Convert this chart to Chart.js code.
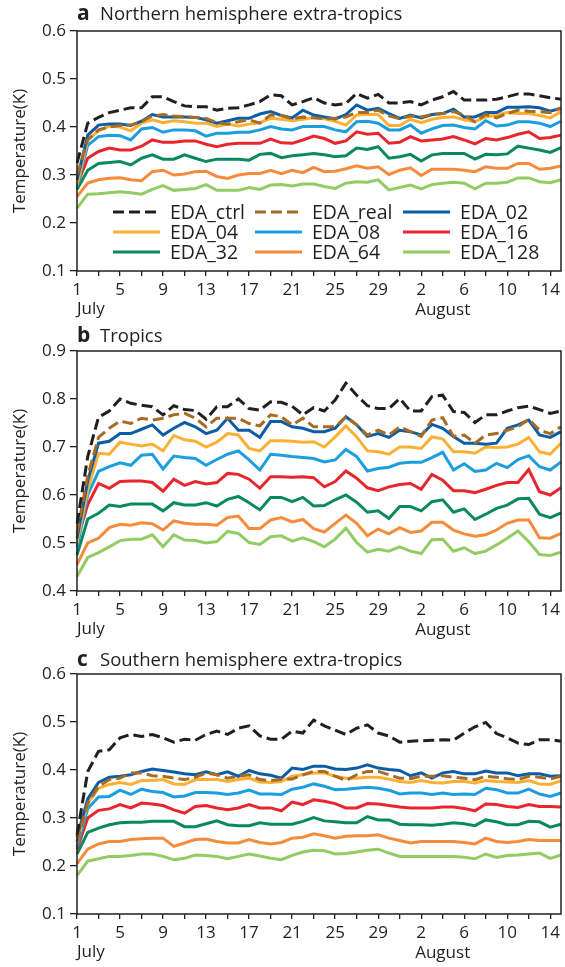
<!DOCTYPE html>
<html>
<head>
<meta charset="utf-8">
<script src="https://cdn.jsdelivr.net/npm/chart.js@4.4.0/dist/chart.umd.min.js"></script>
<style>
  html, body { margin: 0; padding: 0; background: #fff; }
  body { width: 565px; height: 967px; position: relative; overflow: hidden; }
  .panel { position: absolute; left: 0; width: 565px; height: 320px; }
</style>
</head>
<body>
<div class="panel" style="top:0"><canvas id="chartA" width="565" height="320"></canvas></div>
<div class="panel" style="top:320px"><canvas id="chartB" width="565" height="320"></canvas></div>
<div class="panel" style="top:643px"><canvas id="chartC" width="565" height="320"></canvas></div>
<script>
// 1 July .. 15 August, one value per day
const dayLabels = ['1','2','3','4','5','6','7','8','9','10','11','12','13','14','15','16',
  '17','18','19','20','21','22','23','24','25','26','27','28','29','30','31',
  '1','2','3','4','5','6','7','8','9','10','11','12','13','14','15']
const months = ['July', 'August']
const runNames = ['EDA_ctrl', 'EDA_real', 'EDA_02', 'EDA_04', 'EDA_08', 'EDA_16', 'EDA_32', 'EDA_64', 'EDA_128']
const runColours = ['#231f20', '#a66b24', '#0c5da5', '#fbb034', '#1a9ee0', '#e8262c', '#0a8a5c', '#f58b3b', '#92cc62']

// a  Northern hemisphere extra-tropics
const nhCtrl = [0.325,0.408,0.42,0.43,0.435,0.44,0.44,0.463,0.463,0.453, 0.444,0.442,0.442,0.435,0.439,0.44,0.446,0.453,0.467,0.465, 0.446,0.453,0.461,0.45,0.446,0.449,0.47,0.46,0.468,0.45, 0.45,0.453,0.446,0.456,0.463,0.474,0.456,0.456,0.456,0.458, 0.463,0.469,0.469,0.465,0.461,0.458]
const nhReal = [0.30,0.373,0.394,0.40,0.403,0.404,0.411,0.423,0.426,0.423, 0.421,0.42,0.418,0.409,0.406,0.411,0.415,0.408,0.425,0.424, 0.417,0.421,0.419,0.417,0.418,0.421,0.43,0.43,0.435,0.423, 0.417,0.423,0.421,0.426,0.428,0.432,0.425,0.411,0.426,0.419, 0.428,0.435,0.433,0.432,0.43,0.44]
const nh02 = [0.29,0.383,0.404,0.406,0.406,0.403,0.412,0.426,0.421,0.421, 0.421,0.42,0.415,0.408,0.413,0.418,0.418,0.427,0.432,0.424, 0.419,0.435,0.425,0.421,0.417,0.426,0.446,0.435,0.439,0.428, 0.418,0.425,0.419,0.426,0.428,0.437,0.421,0.421,0.43,0.43, 0.441,0.441,0.442,0.44,0.433,0.439]
const nh04 = [0.28,0.373,0.392,0.402,0.40,0.392,0.408,0.415,0.409,0.413, 0.411,0.408,0.408,0.401,0.406,0.402,0.406,0.409,0.418,0.416, 0.413,0.416,0.42,0.417,0.412,0.404,0.425,0.426,0.426,0.403, 0.403,0.416,0.409,0.416,0.42,0.421,0.415,0.411,0.421,0.425, 0.43,0.428,0.428,0.424,0.419,0.432]
const nh08 = [0.275,0.362,0.38,0.383,0.382,0.373,0.396,0.399,0.389,0.394, 0.394,0.392,0.381,0.387,0.387,0.389,0.389,0.394,0.401,0.396, 0.394,0.401,0.401,0.401,0.394,0.39,0.411,0.412,0.408,0.394, 0.394,0.404,0.387,0.396,0.403,0.404,0.399,0.396,0.413,0.402, 0.404,0.411,0.411,0.408,0.401,0.412]
const nh16 = [0.28,0.335,0.349,0.356,0.352,0.352,0.36,0.373,0.368,0.368, 0.371,0.371,0.364,0.359,0.364,0.366,0.366,0.366,0.375,0.367, 0.366,0.373,0.381,0.376,0.366,0.371,0.39,0.385,0.387,0.366, 0.368,0.38,0.371,0.373,0.375,0.38,0.373,0.365,0.376,0.373, 0.378,0.385,0.39,0.376,0.378,0.383]
const nh32 = [0.27,0.31,0.324,0.326,0.328,0.321,0.335,0.342,0.333,0.333, 0.342,0.335,0.328,0.333,0.333,0.333,0.331,0.343,0.345,0.336, 0.34,0.342,0.345,0.342,0.338,0.34,0.356,0.353,0.359,0.335, 0.338,0.343,0.329,0.342,0.345,0.345,0.345,0.333,0.343,0.342, 0.344,0.36,0.356,0.352,0.347,0.357]
const nh64 = [0.255,0.283,0.29,0.293,0.294,0.29,0.288,0.307,0.31,0.30, 0.302,0.307,0.308,0.297,0.293,0.30,0.303,0.303,0.31,0.303, 0.31,0.305,0.316,0.307,0.308,0.313,0.319,0.314,0.317,0.301, 0.31,0.315,0.299,0.312,0.312,0.312,0.31,0.307,0.317,0.314, 0.314,0.324,0.324,0.312,0.314,0.319]
const nh128 = [0.231,0.26,0.261,0.263,0.265,0.263,0.26,0.27,0.278,0.268, 0.27,0.272,0.28,0.268,0.268,0.268,0.274,0.27,0.279,0.28, 0.277,0.281,0.281,0.276,0.272,0.283,0.286,0.285,0.29,0.269, 0.274,0.279,0.271,0.28,0.283,0.285,0.283,0.271,0.283,0.283, 0.285,0.294,0.294,0.286,0.284,0.29]

// b  Tropics
const trCtrl = [0.54,0.68,0.762,0.775,0.80,0.791,0.787,0.784,0.767,0.786, 0.778,0.776,0.758,0.784,0.784,0.80,0.78,0.777,0.794,0.793, 0.785,0.767,0.782,0.775,0.798,0.833,0.808,0.786,0.78,0.78, 0.801,0.775,0.775,0.805,0.808,0.774,0.772,0.751,0.767,0.767, 0.775,0.782,0.785,0.778,0.77,0.775]
const trReal = [0.52,0.64,0.72,0.739,0.754,0.749,0.76,0.756,0.76,0.767, 0.77,0.76,0.742,0.76,0.76,0.76,0.749,0.744,0.767,0.763, 0.746,0.76,0.742,0.742,0.742,0.763,0.746,0.725,0.735,0.725, 0.742,0.732,0.722,0.756,0.761,0.722,0.725,0.708,0.725,0.728, 0.735,0.742,0.758,0.735,0.728,0.742]
const tr02 = [0.51,0.63,0.708,0.712,0.728,0.728,0.737,0.746,0.725,0.739, 0.751,0.742,0.728,0.735,0.76,0.735,0.735,0.72,0.753,0.753, 0.742,0.739,0.732,0.732,0.739,0.763,0.746,0.722,0.728,0.72, 0.735,0.732,0.725,0.747,0.739,0.722,0.708,0.708,0.706,0.708, 0.739,0.746,0.756,0.725,0.72,0.732]
const tr04 = [0.50,0.61,0.687,0.685,0.71,0.706,0.702,0.706,0.692,0.724, 0.715,0.712,0.70,0.71,0.728,0.725,0.697,0.692,0.713,0.713, 0.712,0.71,0.711,0.70,0.721,0.744,0.721,0.692,0.69,0.685, 0.70,0.70,0.697,0.721,0.717,0.69,0.69,0.687,0.70,0.699, 0.70,0.706,0.72,0.69,0.685,0.708]
const tr08 = [0.49,0.60,0.649,0.659,0.667,0.662,0.683,0.685,0.654,0.681, 0.678,0.676,0.662,0.674,0.685,0.692,0.673,0.652,0.685,0.683, 0.68,0.678,0.676,0.669,0.673,0.695,0.68,0.65,0.655,0.658, 0.666,0.668,0.668,0.678,0.689,0.652,0.665,0.649,0.652,0.666, 0.657,0.674,0.682,0.659,0.652,0.669]
const tr16 = [0.505,0.58,0.624,0.614,0.628,0.629,0.629,0.626,0.608,0.633, 0.62,0.628,0.623,0.626,0.645,0.643,0.633,0.614,0.638,0.638, 0.637,0.638,0.636,0.617,0.628,0.65,0.635,0.615,0.609,0.617, 0.622,0.624,0.612,0.643,0.631,0.609,0.609,0.605,0.612,0.62, 0.626,0.626,0.653,0.607,0.60,0.615]
const tr32 = [0.475,0.55,0.562,0.579,0.576,0.581,0.581,0.581,0.567,0.584, 0.579,0.579,0.584,0.577,0.591,0.597,0.584,0.569,0.595,0.595, 0.586,0.595,0.577,0.578,0.59,0.60,0.585,0.564,0.567,0.551, 0.576,0.576,0.567,0.586,0.59,0.564,0.571,0.549,0.56,0.572, 0.579,0.592,0.593,0.56,0.553,0.563]
const tr64 = [0.455,0.50,0.51,0.532,0.539,0.537,0.542,0.54,0.527,0.546, 0.541,0.539,0.539,0.537,0.553,0.556,0.53,0.53,0.548,0.553, 0.544,0.549,0.53,0.523,0.541,0.558,0.541,0.515,0.529,0.519, 0.532,0.522,0.525,0.543,0.543,0.527,0.519,0.514,0.517,0.527, 0.541,0.548,0.548,0.511,0.51,0.52]
const tr128 = [0.43,0.47,0.48,0.492,0.505,0.508,0.508,0.517,0.492,0.517, 0.506,0.505,0.50,0.503,0.524,0.52,0.501,0.497,0.513,0.515, 0.504,0.511,0.503,0.492,0.508,0.531,0.501,0.481,0.487,0.483, 0.492,0.483,0.478,0.507,0.508,0.483,0.49,0.478,0.483,0.496, 0.51,0.525,0.503,0.476,0.474,0.481]

// c  Southern hemisphere extra-tropics
const shCtrl = [0.265,0.397,0.439,0.442,0.467,0.474,0.47,0.474,0.467,0.458, 0.464,0.462,0.474,0.481,0.474,0.487,0.492,0.471,0.464,0.464, 0.481,0.477,0.504,0.492,0.483,0.474,0.487,0.494,0.477,0.471, 0.458,0.46,0.461,0.462,0.463,0.462,0.477,0.49,0.499,0.476, 0.467,0.456,0.453,0.463,0.463,0.46]
const shReal = [0.25,0.331,0.366,0.38,0.383,0.394,0.394,0.388,0.387,0.383, 0.38,0.385,0.394,0.39,0.383,0.387,0.39,0.38,0.378,0.38, 0.381,0.39,0.397,0.397,0.387,0.378,0.39,0.397,0.397,0.39, 0.383,0.382,0.387,0.387,0.388,0.385,0.383,0.38,0.387,0.385, 0.382,0.38,0.387,0.385,0.381,0.387]
const sh02 = [0.26,0.34,0.374,0.385,0.387,0.39,0.397,0.402,0.399,0.396, 0.392,0.39,0.396,0.39,0.396,0.387,0.399,0.392,0.389,0.383, 0.404,0.401,0.408,0.408,0.402,0.401,0.404,0.411,0.404,0.401, 0.399,0.388,0.394,0.383,0.394,0.397,0.392,0.392,0.398,0.394, 0.394,0.388,0.392,0.392,0.387,0.388]
const sh04 = [0.25,0.33,0.362,0.37,0.374,0.37,0.378,0.378,0.38,0.371, 0.37,0.38,0.38,0.38,0.376,0.38,0.383,0.375,0.374,0.376, 0.387,0.39,0.394,0.394,0.387,0.383,0.383,0.385,0.385,0.381, 0.376,0.374,0.378,0.374,0.373,0.376,0.376,0.373,0.378,0.376, 0.375,0.374,0.378,0.371,0.37,0.378]
const sh08 = [0.24,0.32,0.344,0.345,0.358,0.349,0.36,0.355,0.353,0.344, 0.346,0.353,0.353,0.352,0.349,0.352,0.358,0.35,0.35,0.349, 0.36,0.364,0.371,0.366,0.359,0.36,0.362,0.364,0.362,0.358, 0.35,0.352,0.352,0.349,0.352,0.349,0.35,0.349,0.362,0.359, 0.352,0.352,0.36,0.35,0.345,0.352]
const sh16 = [0.235,0.30,0.316,0.319,0.328,0.321,0.331,0.329,0.326,0.317, 0.31,0.324,0.326,0.321,0.317,0.321,0.328,0.321,0.321,0.315, 0.333,0.328,0.338,0.335,0.33,0.321,0.321,0.33,0.329,0.326, 0.323,0.321,0.321,0.321,0.323,0.323,0.32,0.315,0.329,0.328, 0.324,0.322,0.328,0.324,0.324,0.323]
const sh32 = [0.225,0.27,0.279,0.286,0.29,0.291,0.291,0.293,0.293,0.293, 0.282,0.282,0.288,0.294,0.286,0.284,0.284,0.29,0.287,0.287, 0.287,0.293,0.301,0.294,0.292,0.29,0.29,0.303,0.296,0.296, 0.287,0.286,0.286,0.285,0.287,0.29,0.288,0.284,0.296,0.292, 0.286,0.286,0.293,0.292,0.281,0.287]
const sh64 = [0.205,0.235,0.246,0.251,0.251,0.255,0.257,0.258,0.258,0.241, 0.248,0.255,0.256,0.251,0.248,0.248,0.255,0.249,0.246,0.249, 0.258,0.26,0.267,0.263,0.258,0.262,0.263,0.263,0.265,0.258, 0.253,0.248,0.251,0.251,0.251,0.251,0.249,0.246,0.258,0.251, 0.249,0.251,0.255,0.253,0.253,0.253]
const sh128 = [0.18,0.21,0.215,0.22,0.22,0.222,0.225,0.225,0.22,0.213, 0.216,0.223,0.222,0.22,0.215,0.22,0.225,0.221,0.216,0.213, 0.222,0.229,0.233,0.232,0.225,0.226,0.229,0.233,0.235,0.227, 0.22,0.22,0.22,0.22,0.22,0.22,0.218,0.215,0.225,0.218, 0.222,0.223,0.225,0.227,0.216,0.223]

const ink = '#231f20'
const fontFamily = "'Open Sans', sans-serif"
Chart.defaults.font.family = fontFamily
Chart.defaults.color = ink

// box round the plot, panel title, month names and the legend grid
const frame = {
  id: 'frame',
  afterDraw(chart, args, opts) {
    const { ctx, chartArea: a, scales: { x } } = chart
    ctx.save()
    ctx.strokeStyle = ink
    ctx.lineWidth = 1.5
    ctx.strokeRect(a.left, a.top, a.right - a.left, a.bottom - a.top)

    ctx.fillStyle = ink
    ctx.textBaseline = 'alphabetic'
    ctx.textAlign = 'left'
    ctx.font = "bold 21px " + fontFamily
    ctx.fillText(opts.letter, a.left, opts.titleY)
    ctx.font = "18.5px " + fontFamily
    ctx.fillText(opts.title, a.left + 23, opts.titleY)

    ctx.font = "17px " + fontFamily
    ctx.fillText(months[0], x.getPixelForValue(0), a.bottom + 43)
    ctx.textAlign = 'center'
    ctx.fillText(months[1], x.getPixelForValue(34), a.bottom + 44)

    if (opts.legend) {
      const cols = [36, 178, 326]
      ctx.textAlign = 'left'
      ctx.textBaseline = 'middle'
      ctx.font = "19.5px " + fontFamily
      chart.data.datasets.forEach((ds, i) => {
        const lx = a.left + cols[i % 3]
        const ly = a.bottom - 59 + Math.floor(i / 3) * 20
        ctx.strokeStyle = ds.borderColor
        ctx.lineWidth = ds.borderWidth
        ctx.setLineDash(ds.borderDash)
        ctx.beginPath()
        ctx.moveTo(lx, ly)
        ctx.lineTo(lx + 47, ly)
        ctx.stroke()
        ctx.setLineDash([])
        ctx.fillText(ds.label, lx + 57, ly + 1)
      })
    }
    ctx.restore()
  }
}

function makePanel(id, letter, title, titleY, yMin, yMax, values, legend) {
  const datasets = runNames.map((name, i) => ({
    label: name,
    data: values[i],
    borderColor: runColours[i],
    borderWidth: 3,
    borderDash: i < 2 ? [11, 5] : [],
    pointRadius: 0,
    tension: 0,
    fill: false
  }))

  new Chart(document.getElementById(id), {
    type: 'line',
    data: { labels: dayLabels, datasets: datasets },
    options: {
      responsive: false,
      animation: false,
      devicePixelRatio: 1,
      layout: { padding: { left: 0, right: 1, top: 31, bottom: 0 } },
      scales: {
        x: {
          type: 'category',
          offset: false,
          afterFit: (scale) => { scale.height = 49 },
          border: { display: false },
          grid: {
            display: true,
            drawOnChartArea: false,
            tickLength: 5,
            lineWidth: 1.3,
            tickColor: (c) => (c.index % 2 === 0 ? ink : 'rgba(0,0,0,0)')
          },
          ticks: {
            autoSkip: false,
            maxRotation: 0,
            padding: 4,
            font: { size: 17 },
            callback: function (value, index) {
              return index % 4 === 0 ? this.getLabelForValue(value) : ''
            }
          }
        },
        y: {
          min: yMin,
          max: yMax,
          afterFit: (scale) => { scale.width = 77 },
          border: { display: false },
          grid: {
            display: true,
            drawOnChartArea: false,
            tickLength: 7,
            lineWidth: 1.3,
            tickColor: ink
          },
          ticks: {
            stepSize: 0.1,
            padding: 4,
            font: { size: 17 },
            callback: (v) => v.toFixed(1)
          },
          title: {
            display: true,
            text: 'Temperature(K)',
            font: { size: 17 },
            padding: { top: 10, bottom: 0 }
          }
        }
      },
      plugins: {
        legend: { display: false },
        tooltip: { enabled: false },
        frame: { letter: letter, title: title, titleY: titleY, legend: legend }
      }
    },
    plugins: [frame]
  })
}

makePanel('chartA', 'a', 'Northern hemisphere extra-tropics', 20, 0.1, 0.6,
  [nhCtrl, nhReal, nh02, nh04, nh08, nh16, nh32, nh64, nh128], true)
makePanel('chartB', 'b', 'Tropics', 22, 0.4, 0.9,
  [trCtrl, trReal, tr02, tr04, tr08, tr16, tr32, tr64, tr128], false)
makePanel('chartC', 'c', 'Southern hemisphere extra-tropics', 23, 0.1, 0.6,
  [shCtrl, shReal, sh02, sh04, sh08, sh16, sh32, sh64, sh128], false)
</script>
</body>
</html>
